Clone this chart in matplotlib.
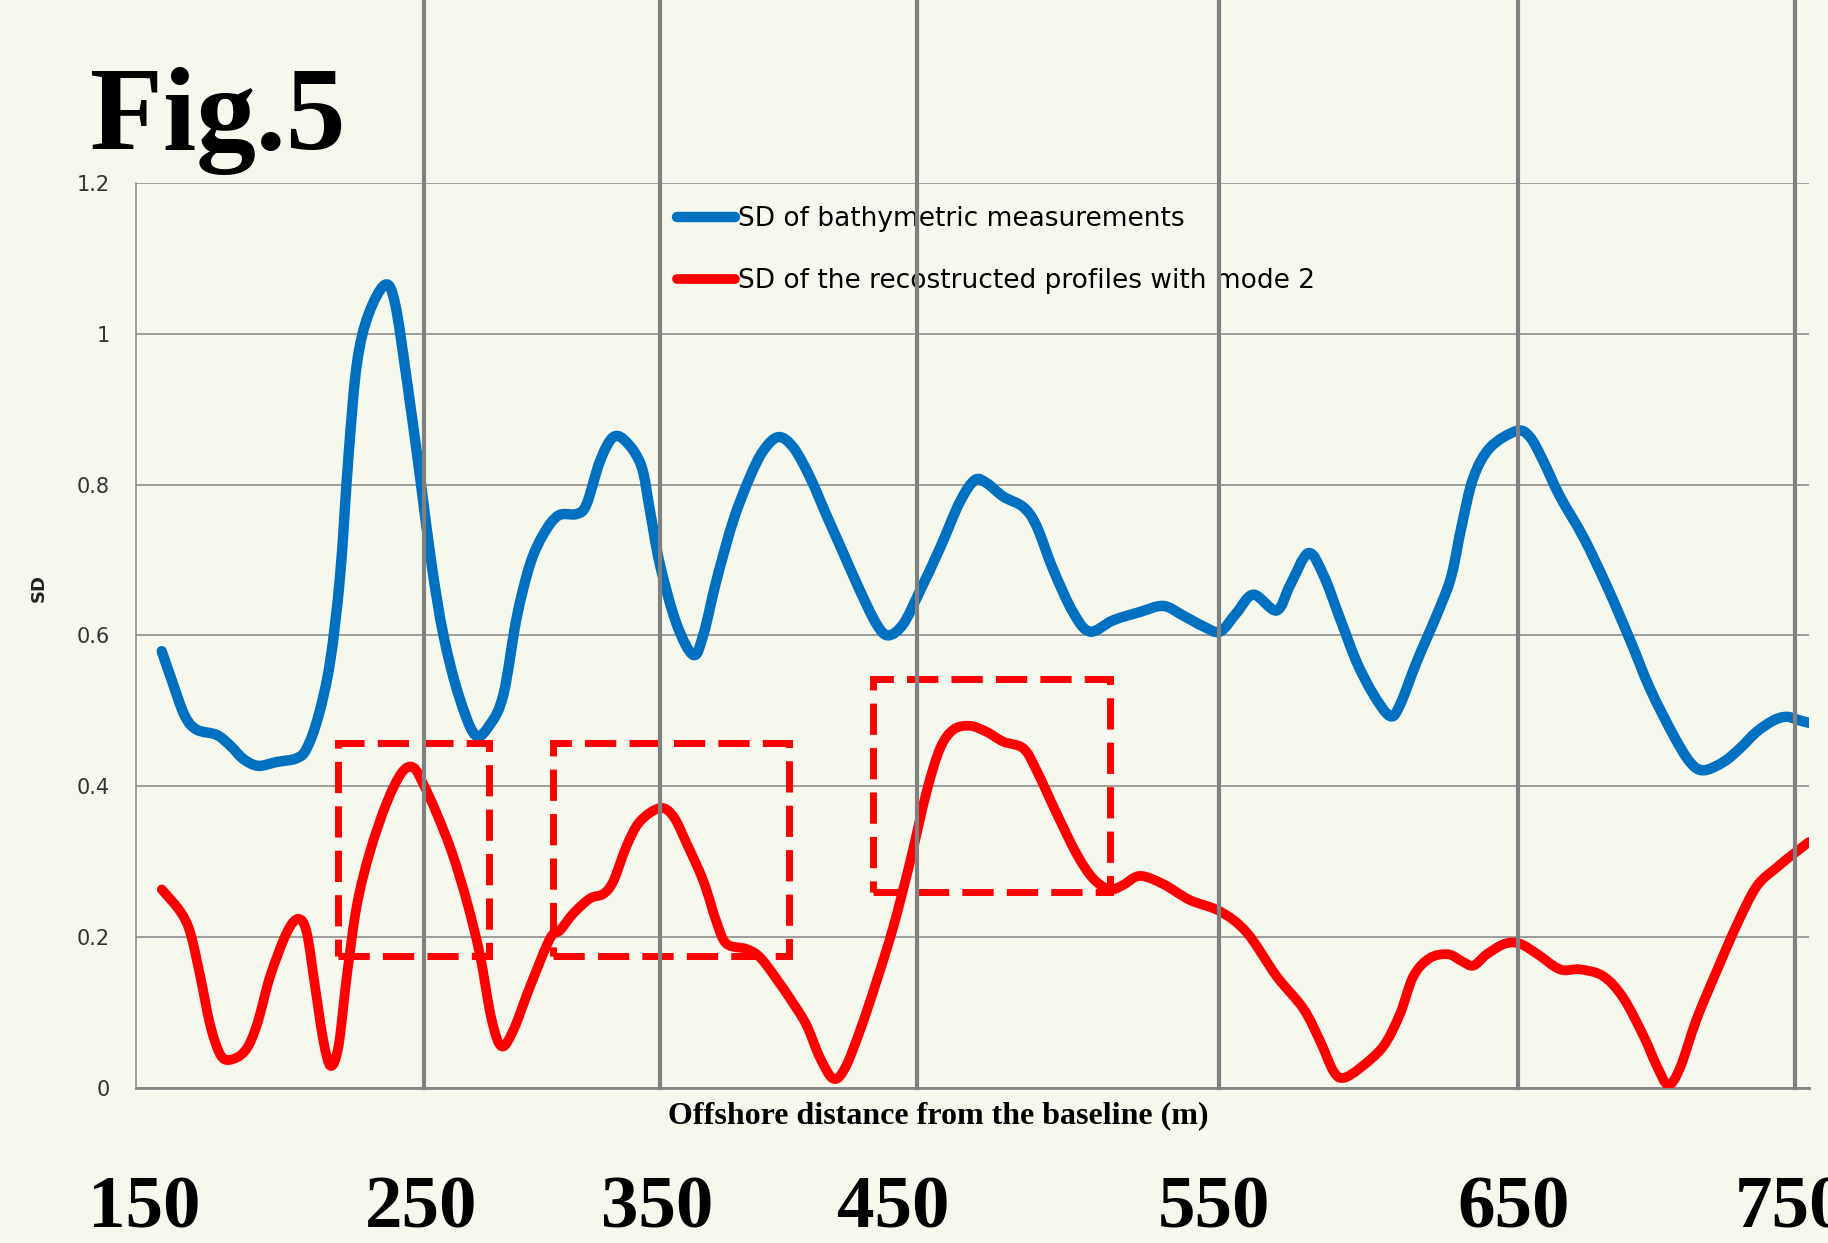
import matplotlib
matplotlib.use("Agg")
import numpy as np
import matplotlib.pyplot as plt
from matplotlib.patches import Rectangle, PathPatch
from matplotlib.path import Path

# Curves (x in metres, y = SD)
blue_x = [159.1, 163.2, 167.4, 171.6, 178.8, 183.6, 188.4, 193.7, 200.3, 207.5,
          211.1, 215.3, 219.5, 223.1, 226.1, 229.1, 233.2, 239.2, 242.8, 247.0,
          251.8, 255.9, 260.1, 265.5, 271.5, 276.9, 281.7, 286.4, 291.2, 296.0,
          301.4, 308.0, 311.5, 316.3, 321.1, 325.9, 331.2, 334.2, 337.8, 343.8,
          349.8, 353.4, 358.1, 364.1, 370.1, 374.9, 380.3, 385.7, 391.6, 397.6,
          403.6, 409.6, 415.5, 419.7, 425.1, 431.1, 438.3, 445.4, 450.8, 455.0,
          461.0, 468.2, 472.9, 478.9, 486.1, 492.1, 500.4, 510.0, 518.4, 525.6,
          532.7, 538.7, 544.7, 550.7, 559.0, 563.8, 570.4, 575.8, 581.7, 587.7,
          593.7, 599.7, 603.3, 609.3, 617.6, 621.8, 625.4, 629.6, 635.6, 645.1,
          649.9, 654.7, 660.7, 669.1, 677.4, 685.8, 693.0, 701.3, 707.3, 712.1,
          719.3, 725.2, 731.2, 737.2, 742.0, 746.8, 750.0]
blue_y = [0.579, 0.535, 0.493, 0.475, 0.468, 0.454, 0.436, 0.427, 0.432, 0.437,
          0.450, 0.493, 0.565, 0.680, 0.838, 0.960, 1.025, 1.065, 1.040, 0.939,
          0.809, 0.694, 0.601, 0.522, 0.468, 0.482, 0.522, 0.623, 0.694, 0.734,
          0.759, 0.761, 0.774, 0.831, 0.863, 0.856, 0.824, 0.766, 0.694, 0.615,
          0.574, 0.601, 0.673, 0.752, 0.810, 0.845, 0.863, 0.849, 0.810, 0.759,
          0.709, 0.659, 0.615, 0.600, 0.615, 0.659, 0.716, 0.777, 0.806, 0.802,
          0.784, 0.770, 0.745, 0.687, 0.630, 0.605, 0.620, 0.631, 0.639, 0.626,
          0.612, 0.605, 0.630, 0.654, 0.633, 0.666, 0.709, 0.680, 0.623, 0.565,
          0.522, 0.493, 0.508, 0.565, 0.637, 0.680, 0.745, 0.809, 0.849, 0.871,
          0.863, 0.831, 0.784, 0.730, 0.666, 0.594, 0.529, 0.468, 0.432, 0.421,
          0.432, 0.450, 0.472, 0.487, 0.492, 0.487, 0.484]

red_x = [159.1, 165.7, 169.3, 172.9, 176.5, 180.1, 183.6, 189.0, 193.2, 198.0,
         204.0, 208.1, 211.1, 214.1, 217.1, 219.7, 222.5, 225.5, 229.1, 233.8,
         239.8, 245.2, 249.3, 252.9, 257.7, 263.1, 268.4, 273.2, 277.4, 281.0,
         285.2, 291.2, 298.4, 302.0, 306.7, 312.7, 317.5, 321.1, 325.9, 330.6,
         337.8, 342.6, 347.4, 353.4, 358.1, 361.7, 368.9, 373.7, 379.7, 385.6,
         390.4, 395.2, 400.0, 404.2, 409.6, 415.5, 421.5, 427.5, 433.5, 438.3,
         443.1, 449.0, 455.0, 461.0, 468.2, 472.9, 480.1, 487.3, 493.3, 499.2,
         504.0, 510.0, 518.4, 527.9, 538.7, 548.3, 559.0, 568.6, 574.6, 579.4,
         582.9, 588.9, 597.3, 603.3, 608.1, 614.0, 620.6, 625.4, 629.6, 634.4,
         640.9, 646.3, 652.3, 660.7, 667.9, 676.2, 683.4, 690.6, 695.4, 699.5,
         703.7, 709.7, 716.9, 724.1, 731.2, 738.4, 744.4, 750.0]
red_y = [0.263, 0.234, 0.206, 0.148, 0.083, 0.044, 0.037, 0.049, 0.083, 0.148,
         0.206, 0.224, 0.206, 0.134, 0.062, 0.029, 0.055, 0.148, 0.242, 0.313,
         0.378, 0.418, 0.425, 0.403, 0.364, 0.313, 0.249, 0.177, 0.091, 0.055,
         0.076, 0.134, 0.198, 0.209, 0.231, 0.251, 0.257, 0.274, 0.321, 0.353,
         0.371, 0.360, 0.324, 0.274, 0.220, 0.191, 0.184, 0.173, 0.144, 0.112,
         0.083, 0.040, 0.012, 0.026, 0.076, 0.141, 0.213, 0.299, 0.393, 0.450,
         0.475, 0.480, 0.472, 0.459, 0.450, 0.421, 0.364, 0.310, 0.277, 0.263,
         0.269, 0.281, 0.270, 0.249, 0.234, 0.206, 0.148, 0.105, 0.062, 0.022,
         0.013, 0.026, 0.055, 0.098, 0.148, 0.172, 0.177, 0.168, 0.162, 0.177,
         0.191, 0.191, 0.178, 0.157, 0.157, 0.148, 0.119, 0.069, 0.029, 0.004,
         0.026, 0.091, 0.155, 0.216, 0.267, 0.292, 0.310, 0.326]

blue_label = "SD of bathymetric measurements"
red_label = "SD of the recostructed profiles with mode 2"

# dashed boxes: (x0, x1, y0, y1)
boxes = [(222.4, 276.6, 0.175, 0.457),
         (299.3, 384.2, 0.175, 0.457),
         (414.3, 499.2, 0.259, 0.542)]

# hand drawn vertical marks and the big distance labels under the chart
mark_x = [253.3, 337.8, 430.0, 538.5, 645.5, 745.0]
dist_labels = ["150", "250", "350", "450", "550", "650", "750"]
dist_label_x = [152.9, 252.2, 336.7, 421.4, 536.6, 644.1, 743.5]

yticks = [0, 0.2, 0.4, 0.6, 0.8, 1.0, 1.2]
ytick_labels = ["0", "0.2", "0.4", "0.6", "0.8", "1", "1.2"]

bg = "#f6f8ee"
grey = "#858585"


def smooth_path(xs, ys):
    # Excel-style smoothed line: bezier segments through every point
    pts = np.column_stack([xs, ys])
    n = len(pts)
    verts = [pts[0]]
    codes = [Path.MOVETO]
    for i in range(n - 1):
        p0 = pts[max(i - 1, 0)]
        p1 = pts[i]
        p2 = pts[i + 1]
        p3 = pts[min(i + 2, n - 1)]
        verts += [p1 + (p2 - p0) / 6, p2 - (p3 - p1) / 6, p2]
        codes += [Path.CURVE4] * 3
    return Path(verts, codes)


fig = plt.figure(figsize=(18.28, 12.43), dpi=100, facecolor=bg)
ax = fig.add_axes([0.0746, 0.1249, 0.9150, 0.7279], facecolor=bg)

for xs, ys, col, lw, lab in [(blue_x, blue_y, "#0070C0", 7.5, blue_label),
                             (red_x, red_y, "#FF0000", 7.0, red_label)]:
    ax.add_patch(PathPatch(smooth_path(xs, ys), fill=False, ec=col, lw=lw,
                           capstyle="round", joinstyle="round", zorder=3))
    ax.plot([], [], color=col, lw=lw, solid_capstyle="round", label=lab)

for x0, x1, y0, y1 in boxes:
    ax.add_patch(Rectangle((x0, y0), x1 - x0, y1 - y0, fill=False,
                           ec="#FF0000", lw=5, ls=(0, (4.5, 1.9)), zorder=4))

for x in mark_x:
    ax.axvline(x, ymin=0, ymax=1.25, color="#808080", lw=3.0,
               clip_on=False, zorder=6)

ax.set_xlim(150, 750)
ax.set_ylim(0, 1.2)
ax.set_xticks([])
ax.set_yticks(yticks)
ax.set_yticklabels(ytick_labels)
ax.tick_params(axis="y", length=0, pad=19, labelsize=15, labelcolor="#333333")
ax.grid(axis="y", color=grey, lw=1.1)
ax.set_axisbelow(True)

for side in ("top", "right"):
    ax.spines[side].set_visible(False)
ax.spines["left"].set_color(grey)
ax.spines["left"].set_linewidth(1.1)
ax.spines["bottom"].set_color(grey)
ax.spines["bottom"].set_linewidth(2.0)

ax.set_ylabel("SD", fontsize=13, fontweight="bold", color="#222222")
ax.yaxis.set_label_coords(-0.053, 0.5525)

ax.text(0.4796, -0.031, "Offshore distance from the baseline (m)",
        transform=ax.transAxes, ha="center", va="center",
        family="Liberation Serif", fontweight="bold", fontsize=23)

trans = ax.get_xaxis_transform()
for lab, x in zip(dist_labels, dist_label_x):
    ax.text(x, -0.1345, lab, transform=trans, ha="center", va="center",
            family="Liberation Serif", fontweight="bold", fontsize=54,
            clip_on=False)

fig.text(0.0492, 0.8801, "Fig.5", ha="left", va="baseline",
         family="Liberation Serif", fontweight="bold", fontsize=86)

leg = ax.legend(loc="center left", bbox_to_anchor=(677 / 1828, 993 / 1243),
                bbox_transform=fig.transFigure, frameon=False, fontsize=19,
                handlelength=2.2, handletextpad=0.1, labelspacing=1.35,
                borderpad=0, borderaxespad=0)
leg.set_zorder(5)

fig.savefig("out.png", dpi=100, facecolor=bg)
